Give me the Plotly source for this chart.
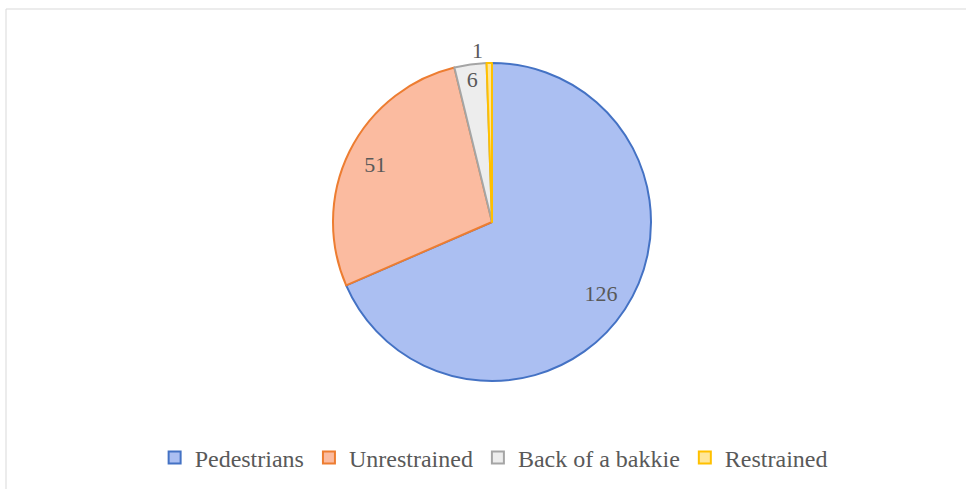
import plotly.graph_objects as go

categories = ["Pedestrians", "Unrestrained", "Back of a bakkie", "Restrained"]
counts = [126, 51, 6, 1]

fill_colors = ["#abbff2", "#fbbba0", "#ededed", "#ffe699"]
edge_colors = ["#4472c4", "#ed7d31", "#a5a5a5", "#ffc000"]

W, H = 966, 489
cx, cy, r = 492, 222, 159
pie_domain = dict(x=[(cx - r) / W, (cx + r) / W], y=[1 - (cy + r) / H, 1 - (cy - r) / H])
label_font = dict(family="Liberation Serif", size=22, color="#595959")

fig = go.Figure()

# Filled slices (also drive the legend)
fig.add_trace(
    go.Pie(
        labels=categories,
        values=counts,
        sort=False,
        direction="clockwise",
        rotation=0,
        textinfo="none",
        marker=dict(colors=fill_colors, line=dict(color=edge_colors, width=2)),
        domain=pie_domain,
        hoverinfo="label+value",
    )
)

# Transparent ring on top that carries the value labels near the rim
fig.add_trace(
    go.Pie(
        labels=categories,
        values=counts,
        sort=False,
        direction="clockwise",
        rotation=0,
        hole=0.64,
        text=[str(v) for v in counts],
        textinfo="text",
        textposition=["inside", "inside", "inside", "outside"],
        insidetextorientation="horizontal",
        textfont=label_font,
        outsidetextfont=label_font,
        marker=dict(colors=["rgba(0,0,0,0)"] * len(counts), line=dict(width=0)),
        domain=pie_domain,
        showlegend=False,
        hoverinfo="skip",
    )
)

fig.update_layout(
    width=W,
    height=H,
    margin=dict(l=0, r=0, t=0, b=0),
    paper_bgcolor="white",
    plot_bgcolor="white",
    showlegend=True,
    legend=dict(
        orientation="h",
        x=0.511,
        xanchor="center",
        y=1 - 458 / H,
        yanchor="middle",
        font=dict(family="Liberation Serif", size=24, color="#595959"),
        itemwidth=30,
    ),
    shapes=[
        dict(
            type="rect",
            xref="paper",
            yref="paper",
            x0=6 / W,
            x1=1.02,
            y0=-0.02,
            y1=1 - 9 / H,
            line=dict(color="#d9d9d9", width=1),
            layer="below",
        )
    ],
)

fig.write_html("out.html")
